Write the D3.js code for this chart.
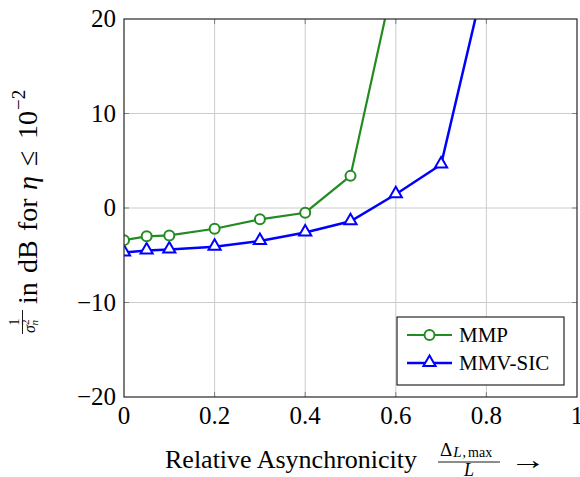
<!DOCTYPE html>
<html>
<head>
<meta charset="utf-8">
<script src="https://cdn.jsdelivr.net/npm/d3@7"></script>
<style>
  body { margin: 0; background: #fff; }
</style>
</head>
<body>
<script>
// values
var xValues = [0, 0.05, 0.1, 0.2, 0.3, 0.4, 0.5, 0.6];
var mmpValues = [-3.4, -3.0, -2.9, -2.2, -1.2, -0.5, 3.4, 25.2];
var sicX = [0, 0.05, 0.1, 0.2, 0.3, 0.4, 0.5, 0.6, 0.7, 0.8];
var sicValues = [-4.7, -4.5, -4.4, -4.1, -3.5, -2.6, -1.4, 1.45, 4.6, 25.0];
var xTicks = [0, 0.2, 0.4, 0.6, 0.8, 1];
var yTicks = [-20, -10, 0, 10, 20];

var W = 580, H = 477;
var left = 124, right = 577, top_ = 19, bottom = 397;
var serif = "'Liberation Serif', 'Times New Roman', 'DejaVu Serif', serif";

var svg = d3.select("body").append("svg")
            .attr("width", W)
            .attr("height", H)
            .attr("font-family", serif)
            .style("font-family", serif);

var x = d3.scaleLinear().domain([0, 1]).range([left, right]);
var y = d3.scaleLinear().domain([-20, 20]).range([bottom, top_]);

// grid
var grid = svg.append("g");
grid.selectAll("line.gx").data(xTicks.slice(1, -1)).enter().append("line")
    .attr("x1", d => x(d)).attr("x2", d => x(d))
    .attr("y1", top_).attr("y2", bottom)
    .attr("stroke", "#cccccc").attr("stroke-width", 1);
grid.selectAll("line.gy").data(yTicks.slice(1, -1)).enter().append("line")
    .attr("x1", left).attr("x2", right)
    .attr("y1", d => y(d)).attr("y2", d => y(d))
    .attr("stroke", "#cccccc").attr("stroke-width", 1);

// small inward ticks
var tl = 5;
var ticks = svg.append("g").attr("stroke", "#808080").attr("stroke-width", 1);
xTicks.slice(1, -1).forEach(d => {
    ticks.append("line").attr("x1", x(d)).attr("x2", x(d)).attr("y1", bottom).attr("y2", bottom - tl);
    ticks.append("line").attr("x1", x(d)).attr("x2", x(d)).attr("y1", top_).attr("y2", top_ + tl);
});
yTicks.slice(1, -1).forEach(d => {
    ticks.append("line").attr("x1", left).attr("x2", left + tl).attr("y1", y(d)).attr("y2", y(d));
    ticks.append("line").attr("x1", right).attr("x2", right - tl).attr("y1", y(d)).attr("y2", y(d));
});

// tick labels
svg.selectAll("text.xt").data(xTicks).enter().append("text")
    .attr("x", d => x(d)).attr("y", 424)
    .attr("text-anchor", "middle")
    .attr("font-size", 25)
    .text(d => d3.format("")(d));
svg.selectAll("text.yt").data(yTicks).enter().append("text")
    .attr("x", left - 8).attr("y", d => y(d) + 8)
    .attr("text-anchor", "end")
    .attr("font-size", 25)
    .text(d => d < 0 ? "\u2212" + Math.abs(d) : d);

// clip for series
svg.append("clipPath").attr("id", "clip")
    .append("rect").attr("x", left).attr("y", top_)
    .attr("width", right - left).attr("height", bottom - top_);

var green = "#228b22", blue = "#0000ff";
var line = d3.line().x(d => x(d[0])).y(d => y(d[1]));
var mmp = xValues.map((v, i) => [v, mmpValues[i]]);
var sic = sicX.map((v, i) => [v, sicValues[i]]);

var plot = svg.append("g").attr("clip-path", "url(#clip)");
plot.append("path").datum(mmp).attr("d", line)
    .attr("fill", "none").attr("stroke", green).attr("stroke-width", 2.2);
plot.append("path").datum(sic).attr("d", line)
    .attr("fill", "none").attr("stroke", blue).attr("stroke-width", 2.5);

var tri = d3.symbol().type(d3.symbolTriangle).size(64);
plot.selectAll("path.tri").data(sic).enter().append("path")
    .attr("d", tri)
    .attr("transform", d => "translate(" + x(d[0]) + "," + (y(d[1]) - 0.5) + ")")
    .attr("fill", "#fff").attr("stroke", blue).attr("stroke-width", 2);
plot.selectAll("circle.mk").data(mmp).enter().append("circle")
    .attr("cx", d => x(d[0])).attr("cy", d => y(d[1])).attr("r", 5)
    .attr("fill", "#fff").attr("stroke", green).attr("stroke-width", 2);

// frame
svg.append("rect")
    .attr("x", left).attr("y", top_)
    .attr("width", right - left).attr("height", bottom - top_)
    .attr("fill", "none").attr("stroke", "#262626").attr("stroke-width", 1.2);

// legend
var lg = svg.append("g");
lg.append("rect").attr("x", 397).attr("y", 317).attr("width", 167).attr("height", 68)
    .attr("fill", "#fff").attr("stroke", "#262626").attr("stroke-width", 1.2);
var legendItems = [{name: "MMP", color: green, mark: "circle"},
                   {name: "MMV-SIC", color: blue, mark: "tri"}];
legendItems.forEach((it, i) => {
    var ly = 335 + i * 28;
    lg.append("line").attr("x1", 407).attr("x2", 452).attr("y1", ly).attr("y2", ly)
        .attr("stroke", it.color).attr("stroke-width", it.mark === "tri" ? 2.5 : 2.2);
    if (it.mark === "circle") {
        lg.append("circle").attr("cx", 429.5).attr("cy", ly).attr("r", 5)
            .attr("fill", "#fff").attr("stroke", it.color).attr("stroke-width", 2);
    } else {
        lg.append("path").attr("d", tri).attr("transform", "translate(429.5," + (ly - 0.5) + ")")
            .attr("fill", "#fff").attr("stroke", it.color).attr("stroke-width", 2);
    }
    lg.append("text").attr("x", 459).attr("y", ly + 7).attr("font-size", 21).text(it.name);
});

// x label
var xl = svg.append("g");
xl.append("text").attr("x", 165).attr("y", 468).attr("font-size", 26).text("Relative Asynchronicity");
var num = xl.append("text").attr("x", 440).attr("y", 456).attr("font-size", 19);
num.append("tspan").text("\u0394");
num.append("tspan").attr("font-style", "italic").attr("font-size", 15).attr("dx", 1).attr("dy", 1).text("L");
num.append("tspan").attr("font-size", 14).attr("dx", 1).text(",");
num.append("tspan").attr("font-size", 14).attr("dx", 2).text("max");
xl.append("line").attr("x1", 438).attr("x2", 500).attr("y1", 462).attr("y2", 462)
    .attr("stroke", "#000").attr("stroke-width", 0.9);
xl.append("text").attr("x", 469).attr("y", 476).attr("text-anchor", "middle")
    .attr("font-size", 18).attr("font-style", "italic").text("L");
xl.append("text").attr("transform", "translate(510,469) scale(1.35,1)")
    .attr("font-size", 27).text("\u2192");

// y label (rotated: local (lx, ly) -> page (ly, -lx))
var yl = svg.append("g").attr("transform", "rotate(-90)");
yl.append("text").attr("x", -322).attr("y", 19).attr("text-anchor", "middle")
    .attr("font-size", 14).text("1");
yl.append("line").attr("x1", -334).attr("x2", -310).attr("y1", 22.5).attr("y2", 22.5)
    .attr("stroke", "#000").attr("stroke-width", 0.9);
var den = yl.append("text").attr("x", -333).attr("y", 35).attr("font-size", 16);
den.append("tspan").attr("font-style", "italic").text("\u03c3");
den.append("tspan").attr("font-size", 11).attr("dy", -6).text("2");
den.append("tspan").attr("font-size", 11).attr("font-style", "italic").attr("dy", 9).attr("dx", -6).text("n");
var main = yl.append("text").attr("y", 37).attr("font-size", 28);
main.append("tspan").attr("x", -304).text("in");
main.append("tspan").attr("x", -273).text("dB");
main.append("tspan").attr("x", -231).text("for");
main.append("tspan").attr("x", -190).attr("font-style", "italic").text("\u03b7");
main.append("tspan").attr("x", -166).text("\u2264");
main.append("tspan").attr("x", -139).text("10");
main.append("tspan").attr("x", -110).attr("font-size", 19).attr("dy", -12).text("\u22122");
</script>
</body>
</html>
